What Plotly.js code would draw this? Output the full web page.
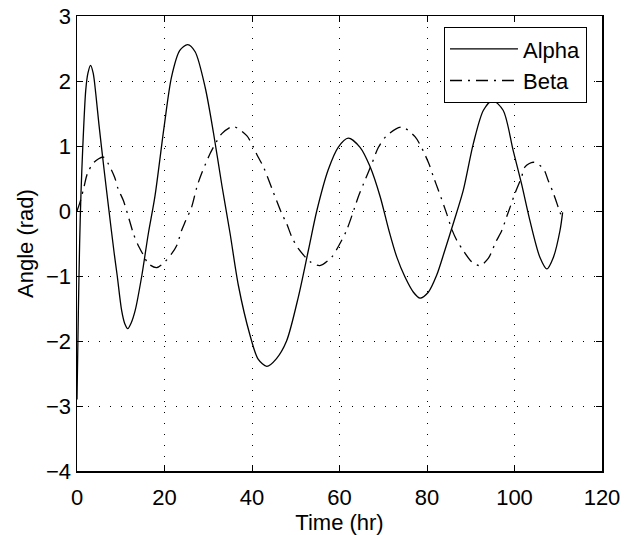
<!DOCTYPE html>
<html>
<head>
<meta charset="utf-8">
<script src="https://cdn.plot.ly/plotly-3.0.1.min.js"></script>
<style>html,body{margin:0;padding:0;background:#fff;}#chart{width:624px;height:535px;}</style>
</head>
<body>
<div id="chart"></div>
<script>
const seriesNames = ["Alpha", "Beta"];

const alphaTime = [0, 0.3, 0.6, 0.9, 1.3, 2.0, 2.5, 3.1, 3.7, 4.3, 5.0, 6.2, 7.3, 8.5, 9.2, 10.2, 10.9, 11.6, 12.4, 13.3, 14.8, 16.3, 17.8, 19.9, 21.6, 23.5, 25.3, 27.0, 29.3, 31.2, 33.1, 35.0, 36.9, 39.5, 41.4, 43.4, 45.6, 47.9, 50.6, 52.9, 54.8, 57.4, 59.7, 62.0, 64.7, 67.0, 69.3, 71.3, 73.1, 75.0, 76.9, 78.4, 80.3, 82.2, 84.1, 86.2, 88.3, 90.6, 92.9, 95.0, 97.4, 99.7, 101.6, 103.5, 105.8, 107.4, 108.9, 110.4, 111.0];
const alphaAngle = [-2.9, -1.6, -0.5, 0.25, 0.95, 1.86, 2.12, 2.24, 2.12, 1.80, 1.34, 0.63, 0.01, -0.65, -1.0, -1.53, -1.73, -1.81, -1.72, -1.53, -1.0, -0.35, 0.22, 1.29, 2.06, 2.47, 2.56, 2.45, 1.9, 1.2, 0.4, -0.35, -1.15, -1.9, -2.28, -2.39, -2.27, -2.0, -1.32, -0.6, 0.0, 0.63, 0.98, 1.12, 0.98, 0.68, 0.22, -0.3, -0.71, -1.02, -1.25, -1.34, -1.25, -0.99, -0.6, -0.15, 0.32, 1.04, 1.55, 1.70, 1.55, 0.93, 0.42, -0.14, -0.71, -0.89, -0.71, -0.3, -0.02];

const betaTime = [0, 0.8, 1.6, 2.4, 3.9, 6.0, 7.2, 8.6, 9.4, 10.6, 12.1, 12.9, 14.0, 15.2, 16.3, 18.2, 20.1, 21.6, 22.8, 23.9, 24.7, 26.2, 27.4, 28.5, 30.4, 32.0, 33.1, 35.7, 38.8, 40.3, 41.4, 42.6, 44.7, 46.8, 47.9, 49.1, 50.6, 53.3, 55.5, 58.2, 59.7, 61.6, 63.5, 64.3, 65.5, 67.4, 68.9, 70.8, 74.2, 77.3, 80.3, 81.5, 82.6, 84.5, 85.6, 86.8, 88.5, 90.2, 92.1, 94.0, 95.7, 97.1, 98.2, 99.0, 100.1, 101.6, 102.4, 104.3, 106.6, 107.7, 108.9, 110.4, 111.0];
const betaAngle = [0, 0.16, 0.37, 0.58, 0.75, 0.83, 0.72, 0.52, 0.34, 0.16, -0.17, -0.35, -0.53, -0.68, -0.81, -0.87, -0.78, -0.66, -0.53, -0.30, -0.17, 0.06, 0.37, 0.58, 0.88, 1.08, 1.19, 1.30, 1.16, 0.98, 0.83, 0.68, 0.32, -0.04, -0.19, -0.40, -0.58, -0.78, -0.84, -0.71, -0.55, -0.30, 0.06, 0.22, 0.42, 0.73, 0.98, 1.16, 1.29, 1.14, 0.75, 0.52, 0.32, -0.04, -0.27, -0.45, -0.63, -0.78, -0.84, -0.73, -0.48, -0.30, -0.09, 0.06, 0.27, 0.52, 0.68, 0.75, 0.65, 0.47, 0.27, -0.02, -0.12];

const xTickVals = [0, 20, 40, 60, 80, 100, 120];
const yTickVals = [-4, -3, -2, -1, 0, 1, 2, 3];
const xTitle = "Time (hr)";
const yTitle = "Angle (rad)";

const FONT = "Liberation Sans, Arial, Helvetica, sans-serif";

const traces = [
  {x: alphaTime, y: alphaAngle, name: seriesNames[0], type: "scatter", mode: "lines",
   line: {color: "#000", width: 1.3, shape: "spline", smoothing: 0.8}},
  {x: betaTime, y: betaAngle, name: seriesNames[1], type: "scatter", mode: "lines",
   line: {color: "#000", width: 1.3, shape: "spline", smoothing: 0.8, dash: "12px,6px,2px,6px"}}
];

const axisCommon = {
  showline: true, mirror: "ticks", linecolor: "#000", linewidth: 1.5,
  ticks: "inside", ticklen: 6, tickcolor: "#000", tickwidth: 1,
  showgrid: true, gridcolor: "#000", gridwidth: 1, griddash: "1px,10px",
  zeroline: false, tickfont: {family: FONT, size: 22, color: "#000"}
};

const layout = {
  width: 624, height: 535,
  margin: {l: 77, r: 22, t: 16, b: 64},
  paper_bgcolor: "#fff", plot_bgcolor: "#fff",
  font: {family: FONT, size: 22, color: "#000"},
  showlegend: true,
  legend: {
    x: 0.971, xanchor: "right", y: 0.976, yanchor: "top",
    bgcolor: "#fff", bordercolor: "#000", borderwidth: 1.2,
    font: {family: FONT, size: 22, color: "#000"},
    itemwidth: 68, tracegroupgap: 0
  },
  xaxis: Object.assign({}, axisCommon, {
    range: [0, 120], tickvals: xTickVals, ticktext: xTickVals.map(String),
    ticklabelstandoff: 6,
    title: {text: xTitle, font: {family: FONT, size: 22, color: "#000"}, standoff: 8}
  }),
  yaxis: Object.assign({}, axisCommon, {
    range: [-4, 3], tickvals: yTickVals,
    title: {text: yTitle, font: {family: FONT, size: 22, color: "#000"}, standoff: 6}
  })
};

Plotly.newPlot("chart", traces, layout, {displayModeBar: false, staticPlot: true});
</script>
</body>
</html>
